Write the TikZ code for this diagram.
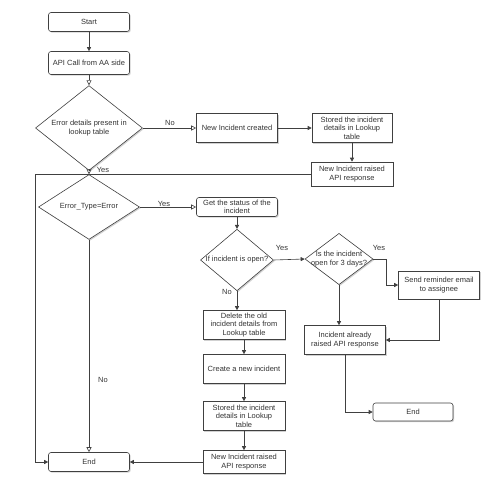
\documentclass[tikz,border=0pt]{standalone}
\usepackage{fontspec}
\setmainfont{Liberation Sans}
\usetikzlibrary{shapes.geometric,arrows.meta,shadows}

\begin{document}
\begin{tikzpicture}[x=1pt,y=-1pt,
  every node/.style={font=\fontsize{7.5}{8.4}\selectfont, text=black!80},
  boxshadow/.style={drop shadow={shadow xshift=1.2pt,shadow yshift=-1.2pt,opacity=0.3,fill=black!60}},
  termbox/.style={draw=black!75, line width=0.6pt, rounded corners=2.5pt, fill=white, boxshadow, align=center, inner sep=1pt},
  procbox/.style={draw=black!75, line width=0.6pt, fill=white, boxshadow, align=center, inner sep=1pt},
  decision/.style={diamond, draw=black!75, line width=0.6pt, fill=white, boxshadow, align=center, inner sep=0pt},
  flowlabel/.style={inner sep=1pt},
  openarrow/.style={draw=black!75, line width=0.6pt, -{Triangle[open,length=5pt,width=5pt]}},
  fillarrow/.style={draw=black!75, line width=0.6pt, -{Triangle[length=4pt,width=4pt]}},
  plainline/.style={draw=black!75, line width=0.6pt}]
\useasboundingbox (0,0) rectangle (499,488);

% left column
\node[termbox, minimum width=81, minimum height=19] (start) at (89,22) {Start};
\node[termbox, minimum width=81, minimum height=23] (api) at (89,63) {API Call from AA side};
\node[decision, minimum width=107, minimum height=67, inner xsep=-3pt] (chk) at (89,128) {Error details present in\\lookup table};
\node[decision, minimum width=101, minimum height=53] (etype) at (89,207) {Error\_Type=Error};
\node[termbox, minimum width=81, minimum height=19] (endA) at (89,462) {End};

% top branch
\node[procbox, minimum width=81, minimum height=29] (newinc) at (237,128) {New Incident created};
\node[procbox, minimum width=80, minimum height=29] (store1) at (352,128) {Stored the incident\\details in Lookup\\table};
\node[procbox, minimum width=82, minimum height=24] (raise1) at (352,174) {New Incident raised\\API response};

% middle branch
\node[termbox, minimum width=81, minimum height=19] (status) at (237,207) {Get the status of the\\incident};
\node[decision, minimum width=73, minimum height=54, inner xsep=-4pt] (isopen) at (237,260) {If incident is open?};
\node[decision, minimum width=68, minimum height=51, inner xsep=-10pt] (days) at (339,259) {Is the incident\\open for 3 days?};
\node[procbox, minimum width=81, minimum height=28] (remind) at (439,285) {Send reminder email\\to assignee};
\node[procbox, minimum width=81, minimum height=29] (already) at (345,340) {Incident already\\raised API response};
\node[termbox, minimum width=80, minimum height=18] (endB) at (413,412) {End};

% lower branch
\node[procbox, minimum width=82, minimum height=29] (delold) at (244,325) {Delete the old\\incident details from\\Lookup table};
\node[procbox, minimum width=82, minimum height=29] (create) at (244,369) {Create a new incident};
\node[procbox, minimum width=82, minimum height=29] (store2) at (244,416) {Stored the incident\\details in Lookup\\table};
\node[procbox, minimum width=82, minimum height=23] (raise2) at (244,462) {New Incident raised\\API response};

% labels
\node[flowlabel] (lno1) at (170,123) {No};
\node[flowlabel] (lyes1) at (103,170) {Yes};
\node[flowlabel] (lyes2) at (164,204) {Yes};
\node[flowlabel] (lno2) at (103,380) {No};
\node[flowlabel] (lyes3) at (282,248) {Yes};
\node[flowlabel] (lno3) at (227,292) {No};
\node[flowlabel] (lyes4) at (379,248) {Yes};

\coordinate (leftx) at (35,0);
\coordinate (remx) at (386,0);

% connectors
\draw[fillarrow] (start) -- (api);
\draw[openarrow] (api) -- (chk);
\draw[openarrow] (chk.east) -- (newinc.west);
\draw[fillarrow] (newinc) -- (store1);
\draw[fillarrow] (store1) -- (raise1);
\draw[fillarrow] (raise1.west) -- (raise1.west -| leftx) |- (endA.west);
\draw[openarrow] (chk.south) -- (etype.north);
\draw[openarrow] (etype.east) -- (status.west);
\draw[openarrow] (etype.south) -- (endA.north);
\draw[fillarrow] (status) -- (isopen);
\draw[fillarrow] (isopen.east) -- (days.west);
\draw[fillarrow] (isopen.south) -- (isopen.south |- delold.north);
\draw[fillarrow] (delold) -- (create);
\draw[fillarrow] (create) -- (store2);
\draw[fillarrow] (store2) -- (raise2);
\draw[fillarrow] (raise2.west) -- (endA.east);
\draw[fillarrow] (days.east) -- (days.east -| remx) |- (remind.west);
\draw[fillarrow] (remind.south) |- (already.east);
\draw[fillarrow] (days.south) -- (days.south |- already.north);
\draw[fillarrow] (already.south) |- (endB.west);
\end{tikzpicture}
\end{document}
